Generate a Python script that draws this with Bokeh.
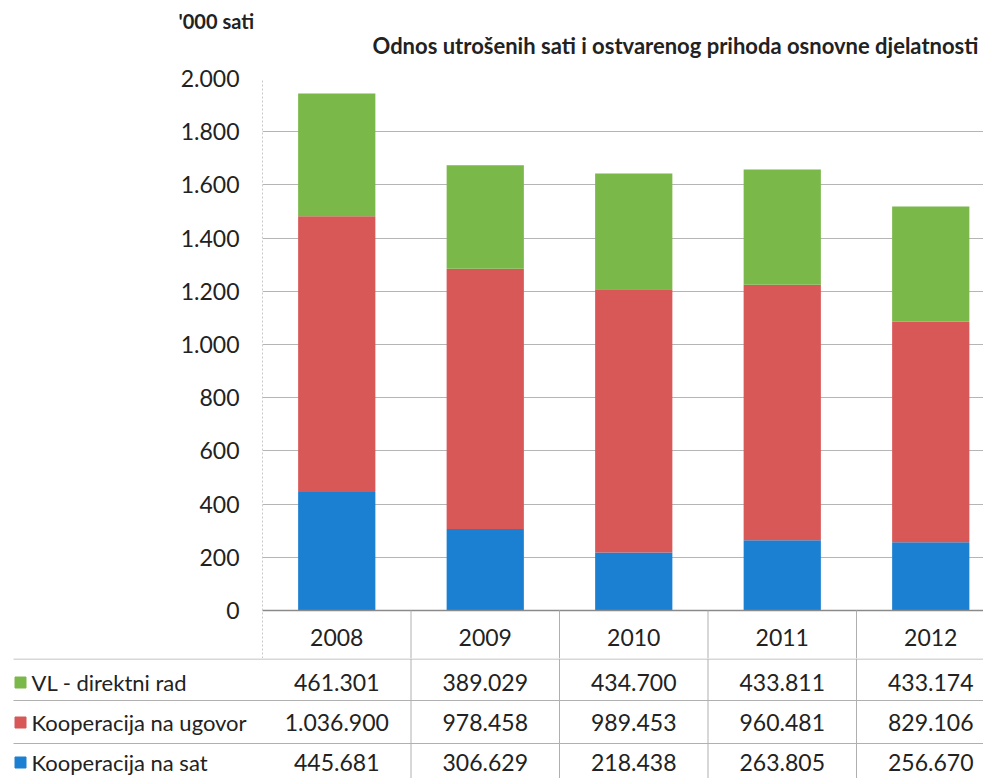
from bokeh.plotting import figure
from bokeh.models import Range1d, FixedTicker, ColumnDataSource
from bokeh.embed import file_html
from bokeh.resources import INLINE
from bokeh.core.properties import value

# ---- data ----
years = ["2008", "2009", "2010", "2011", "2012"]
series_names = ["VL - direktni rad", "Kooperacija na ugovor", "Kooperacija na sat"]
vl_hours = [461301, 389029, 434700, 433811, 433174]
ugovor_hours = [1036900, 978458, 989453, 960481, 829106]
sat_hours = [445681, 306629, 218438, 263805, 256670]
y_ticks = [0, 200, 400, 600, 800, 1000, 1200, 1400, 1600, 1800, 2000]
y_tick_labels = ["0", "200", "400", "600", "800", "1.000", "1.200", "1.400", "1.600", "1.800", "2.000"]
title_text = "Odnos utrošenih sati i ostvarenog prihoda osnovne djelatnosti"
unit_text = "'000 sati"

GREEN = "#7ab84a"
RED = "#d85757"
BLUE = "#1b80d2"
FONT = "Lato"
TXT = "#222222"
GRID = "#b5b5b5"
TABLE_LINE = "#b0b0b0"

FIG_W = 983
PX_PER_CAT = 148.5
LEFT = 262                 # chart frame left edge (px)
X_END = (FIG_W - LEFT) / PX_PER_CAT
PX_PER_UNIT = 532 / 2000.0
HEAD_H = 62                # header strip height
TOP = 16                   # chart border above the 2.000 gridline
BELOW = 48                 # chart frame below the zero line (px): holds the year row
Y_START = -BELOW / PX_PER_UNIT
CHART_H = TOP + 532 + BELOW
T_H = 778 - HEAD_H - CHART_H

centers = [i + 0.5 for i in range(len(years))]
bounds = list(range(1, len(years)))
src = ColumnDataSource(dict(
    x=centers,
    sat=[v / 1000 for v in sat_hours],
    ugovor=[v / 1000 for v in ugovor_hours],
    vl=[v / 1000 for v in vl_hours],
))

# ---- header (unit + title) ----
h = figure(width=FIG_W, height=HEAD_H, x_range=Range1d(0, FIG_W), y_range=Range1d(HEAD_H, 0),
           toolbar_location=None, output_backend="svg", x_axis_location=None,
           y_axis_location=None, min_border=0)
h.outline_line_color = None
h.grid.visible = False
h.text(x=[178], y=[20], text=[unit_text], text_align="left", text_baseline="middle",
       text_font=value(FONT), text_font_size="20px", text_font_style="bold", text_color=TXT)
h.text(x=[372], y=[45], text=[title_text], text_align="left", text_baseline="middle",
       text_font=value(FONT), text_font_size="22px", text_font_style="bold", text_color=TXT)

# ---- chart ----
p = figure(width=FIG_W, height=CHART_H, x_range=Range1d(0, X_END),
           y_range=Range1d(Y_START, 2000),
           toolbar_location=None, output_backend="svg", x_axis_location=None,
           min_border_left=LEFT, min_border_right=0, min_border_top=TOP, min_border_bottom=0)
p.outline_line_color = None
p.xgrid.visible = False
p.ygrid.ticker = FixedTicker(ticks=y_ticks)
p.ygrid.grid_line_color = GRID
p.yaxis.ticker = FixedTicker(ticks=y_ticks)
p.yaxis.major_label_overrides = {t: l for t, l in zip(y_ticks, y_tick_labels)}
p.yaxis.major_tick_line_color = None
p.yaxis.minor_tick_line_color = None
p.yaxis.axis_line_color = "#c8c8c8"
p.yaxis.axis_line_dash = "2 2"
p.yaxis.major_label_text_font = FONT
p.yaxis.major_label_text_font_size = "23px"
p.yaxis.major_label_text_color = TXT
p.yaxis.major_label_standoff = 17

p.vbar_stack(["sat", "ugovor", "vl"], x="x", width=0.52, color=[BLUE, RED, GREEN],
             line_color=None, source=src)
# zero baseline, column separators and the year row of the data table
p.segment(x0=[-0.05], y0=[0], x1=[X_END], y1=[0], line_color="#8a8a8a", line_width=1.5)
p.segment(x0=bounds, y0=[0] * len(bounds), x1=bounds, y1=[Y_START] * len(bounds),
          line_color=TABLE_LINE, line_width=1)
p.text(x=centers, y=[-27 / PX_PER_UNIT] * len(years), text=years, text_align="center",
       text_baseline="middle", text_font=value(FONT), text_font_size="23px", text_color=TXT)

# ---- data table rows ----
T_TOP = BELOW
T_BOT = BELOW + T_H
t = figure(width=FIG_W, height=T_H, x_range=Range1d(-LEFT / PX_PER_CAT, X_END),
           y_range=Range1d(T_BOT, T_TOP), toolbar_location=None, output_backend="svg",
           x_axis_location=None, y_axis_location=None, min_border=0)
t.outline_line_color = None
t.grid.visible = False

x0 = -LEFT / PX_PER_CAT
sep_y = [T_TOP + 0.5, 90, 133]
t.segment(x0=[x0 + 13 / PX_PER_CAT] * 3, y0=sep_y, x1=[X_END] * 3, y1=sep_y,
          line_color=TABLE_LINE, line_width=1)
t.segment(x0=bounds, y0=[T_TOP] * len(bounds), x1=bounds, y1=[T_BOT] * len(bounds),
          line_color=TABLE_LINE, line_width=1)

row_y = [72, 112, 152]
rows = [vl_hours, ugovor_hours, sat_hours]
for yy, vals in zip(row_y, rows):
    labels = [f"{v:,}".replace(",", ".") for v in vals]
    t.text(x=centers, y=[yy] * len(vals), text=labels, text_align="center",
           text_baseline="middle", text_font=value(FONT), text_font_size="23px", text_color=TXT)

t.scatter(x=[x0 + 20 / PX_PER_CAT] * 3, y=row_y, marker="square", size=11,
          color=[GREEN, RED, BLUE])
t.text(x=[x0 + 31 / PX_PER_CAT] * 3, y=row_y, text=series_names, text_align="left",
       text_baseline="middle", text_font=value(FONT), text_font_size="22px", text_color=TXT)

open("out.html", "w").write(file_html([h, p, t], INLINE))
